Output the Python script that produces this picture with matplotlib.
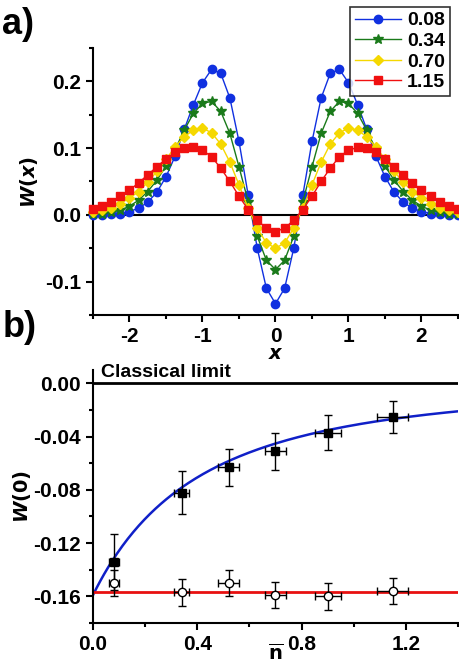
import numpy as np
import matplotlib
matplotlib.use("Agg")
import matplotlib.pyplot as plt

plt.rcParams['font.family'] = ['Liberation Sans', 'DejaVu Sans']
plt.rcParams['font.weight'] = 'bold'
plt.rcParams['axes.unicode_minus'] = False

x_half = [0, 0.125, 0.25, 0.375, 0.5, 0.625, 0.75, 0.875, 1.0, 1.125, 1.25, 1.375, 1.5,
          1.625, 1.75, 1.875, 2.0, 2.125, 2.25, 2.375, 2.5]
w008 = [-0.133, -0.11, -0.05, 0.03, 0.11, 0.175, 0.212, 0.218, 0.198, 0.165, 0.128, 0.088,
        0.057, 0.034, 0.019, 0.01, 0.005, 0.002, 0.001, 0.0, 0.0]
w034 = [-0.082, -0.068, -0.032, 0.02, 0.072, 0.122, 0.155, 0.17, 0.167, 0.152, 0.127, 0.098,
        0.073, 0.052, 0.035, 0.022, 0.013, 0.007, 0.004, 0.002, 0.001]
w070 = [-0.05, -0.042, -0.02, 0.01, 0.045, 0.079, 0.106, 0.123, 0.13, 0.127, 0.117, 0.102,
        0.083, 0.065, 0.049, 0.035, 0.025, 0.017, 0.011, 0.007, 0.004]
w115 = [-0.025, -0.02, -0.008, 0.008, 0.028, 0.05, 0.07, 0.087, 0.097, 0.101, 0.1, 0.094,
        0.084, 0.072, 0.06, 0.048, 0.037, 0.028, 0.02, 0.014, 0.009]
labels = ['0.08', '0.34', '0.70', '1.15']

nbar = [0.08, 0.34, 0.52, 0.70, 0.90, 1.15]
nbar_err = [0.02, 0.03, 0.04, 0.04, 0.05, 0.06]
w0_meas = [-0.134, -0.082, -0.063, -0.051, -0.037, -0.025]
w0_meas_err = [0.021, 0.016, 0.014, 0.014, 0.013, 0.012]
w0_corr = [-0.150, -0.157, -0.150, -0.159, -0.160, -0.156]
w0_corr_err = [0.010, 0.010, 0.010, 0.010, 0.010, 0.010]

def mirror(v):
    return np.concatenate([np.array(v[:0:-1]), np.array(v)])
xs = np.concatenate([-np.array(x_half[:0:-1]), np.array(x_half)])

fig = plt.figure(figsize=(4.6, 6.65), dpi=100)
ax1 = fig.add_axes([93/460, 1-315/665, 365/460, 267/665])
ax2 = fig.add_axes([93/460, 1-623/665, 365/460, 253/665])

styles = [('#1030e0', 'o', 6), ('#1a7a1a', '*', 7), ('#f5d800', 'D', 5), ('#f01010', 's', 5.5)]
for data, lab, (c, m, ms) in zip([w008, w034, w070, w115], labels, styles):
    ax1.plot(xs, mirror(data), color=c, marker=m, ms=ms, lw=1, label=lab, clip_on=False, zorder=3)
ax1.axhline(0, color='black', lw=1.5, zorder=2)
ax1.set_xlim(-2.5, 2.5)
ax1.set_ylim(-0.15, 0.25)
ax1.set_xticks([-2, -1, 0, 1, 2])
ax1.set_xticks([-2.5, -1.5, -0.5, 0.5, 1.5, 2.5], minor=True)
ax1.set_yticks([-0.1, 0.0, 0.1, 0.2])
ax1.set_yticks([-0.15, -0.05, 0.05, 0.15, 0.25], minor=True)
ax1.set_ylabel(r'$W(x)$', fontsize=14)
ax1.set_xlabel(r'$x$', fontsize=14, labelpad=0)
leg = ax1.legend(loc='upper right', bbox_to_anchor=(1.005, 1.19), fontsize=14, frameon=True,
                 fancybox=False, edgecolor='black', handlelength=2.4, borderpad=0.25,
                 labelspacing=0.15, handletextpad=0.3)
leg.get_frame().set_linewidth(1.2)

nn = np.linspace(0, 1.4, 200)
ax2.plot(nn, -0.159 / (1 + 1.25 * nn) ** 2, color='#1020c8', lw=1.8, zorder=2)
ax2.axhline(-0.157, color='#e81010', lw=2, zorder=2)
ax2.axhline(0, color='black', lw=2, zorder=2)
ax2.errorbar(nbar, w0_meas, yerr=w0_meas_err, xerr=nbar_err, fmt='s', color='black', ms=6,
             capsize=3, elinewidth=1, zorder=3)
ax2.errorbar(nbar, w0_corr, yerr=w0_corr_err, xerr=nbar_err, fmt='o', mfc='white', mec='black',
             color='black', ms=6, capsize=3, elinewidth=1, zorder=3)
ax2.text(0.03, 0.002, 'Classical limit', fontsize=14, va='bottom')
ax2.set_xlim(0, 1.4)
ax2.set_ylim(-0.18, 0.01)
ax2.set_xticks([0.0, 0.4, 0.8, 1.2])
ax2.set_xticks([0.2, 0.6, 1.0, 1.4], minor=True)
ax2.set_yticks([0.0, -0.04, -0.08, -0.12, -0.16])
ax2.set_yticks([-0.02, -0.06, -0.10, -0.14, -0.18], minor=True)
ax2.set_yticklabels(['0.00', '-0.04', '-0.08', '-0.12', '-0.16'])
ax2.set_ylabel(r'$W(0)$', fontsize=14, labelpad=0)
ax2.set_xlabel(r'$\overline{\mathrm{n}}$', fontsize=14, labelpad=-8)

for ax in (ax1, ax2):
    for s in ('top', 'right'):
        ax.spines[s].set_visible(False)
    for s in ('left', 'bottom'):
        ax.spines[s].set_linewidth(1.5)
    ax.tick_params(which='major', length=5, width=1.5, labelsize=15)
    ax.tick_params(which='minor', length=3, width=1.5)

ax1.set_yticklabels(['-0.1', '0.0', '0.1', '0.2'])
fig.text(0.005, 0.99, 'a)', fontsize=26, va='top')
fig.text(0.005, 1-310/665, 'b)', fontsize=26, va='top')

fig.savefig('out.png', dpi=100)
